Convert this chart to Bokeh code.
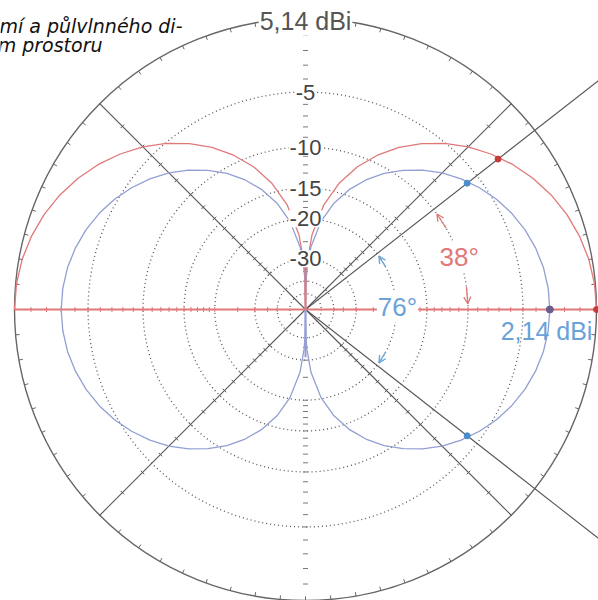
import numpy as np
from bokeh.plotting import figure
from bokeh.models import Range1d, Label, Arrow, OpenHead
from bokeh.embed import file_html
from bokeh.resources import INLINE

# ---------------- data ----------------
title_lines = ["mí a půlvlnného di-", "m prostoru"]
peak_label = "5,14 dBi"
dipole_label = "2,14 dBi"
ring_db = [-5, -10, -15, -20, -30, -40, -50]
ring_labels = ["-5", "-10", "-15", "-20", "-30"]
# elevation angle (deg) and relative pattern level (dB) of the dipole lobe
elev_deg = [0, 5, 10, 15, 20, 25, 30, 35, 40, 45, 50, 55, 60, 65, 70, 75, 80, 85, 88, 89, 90]
pattern_db = [0.0, -0.05, -0.19, -0.44, -0.78, -1.22, -1.76, -2.41, -3.17, -4.03, -5.05,
              -6.23, -7.58, -9.20, -11.16, -13.69, -17.24, -23.26, -31.2, -37.3, -99.0]
scale_max_dbi = 5.14
red_peak_dbi = 5.14     # dipole over ground (upper half only)
blue_peak_dbi = 2.14    # half-wave dipole in free space
red_half_angle = 38     # deg
blue_beamwidth = 76     # deg

# ---------------- styling ----------------
R = 291.0
FONT = "Liberation Sans"
GRAY = "#555555"
RED = "#e07878"
RED_D = "#c83a3a"
BLUE_LINE = "#929fd2"
BLUE_T = "#6aa2d8"


def rad(db):
    """ARRL log-periodic radial scale: 0.89 per 2 dB."""
    return R * 0.89 ** (-np.asarray(db, dtype=float) / 2.0)


def pol(r, deg):
    a = np.deg2rad(np.asarray(deg, dtype=float))
    return np.asarray(r) * np.cos(a), np.asarray(r) * np.sin(a)


p = figure(width=598, height=600, x_range=Range1d(-305, 293), y_range=Range1d(-291, 309),
           output_backend="svg", toolbar_location=None, min_border=0)
p.axis.visible = False
p.grid.visible = False
p.outline_line_color = None
p.background_fill_color = "white"
p.border_fill_color = "white"

# dotted rings
for d in ring_db:
    p.circle(x=0, y=0, radius=float(rad(d)), fill_color=None, line_color="#555555",
             line_width=1.3, line_dash="1 3")
# outer ring
p.circle(x=0, y=0, radius=R, fill_color=None, line_color="#666666", line_width=1.4)
tick_a = np.arange(0, 360, 5)
x0, y0 = pol(R - 4, tick_a)
x1, y1 = pol(R, tick_a)
p.segment(x0, y0, x1, y1, line_color="#666666", line_width=1)

# radial lines at 45 deg
for a in [45, 135, 225, 315]:
    xe, ye = pol(R, a)
    p.segment(0, 0, float(xe), float(ye), line_color=GRAY, line_width=1.1)
    tdb = np.arange(-2, -31, -2)
    rr = rad(tdb)
    cx, cy = pol(rr, a)
    px, py = pol(2.5, a + 90)
    p.segment(cx - px, cy - py, cx + px, cy + py, line_color=GRAY, line_width=1)

# half-power direction lines (+-38 deg), running past the ring
for a in [red_half_angle, -red_half_angle]:
    xe, ye = pol(400, a)
    p.segment(0, 0, float(xe), float(ye), line_color=GRAY, line_width=1.1)

# horizontal (ground) axis in red with 1 dB ticks
p.segment(-R, 0, R, 0, line_color=RED, line_width=2)
hdb = np.concatenate([np.arange(-1, -21, -1), [-25, -30, -35, -40]])
hr = rad(hdb)
for s in [1, -1]:
    p.segment(s * hr, -2.5, s * hr, 2.5, line_color=RED, line_width=1)
# vertical ticks
for s in [1, -1]:
    p.segment(-2.5, s * hr, 2.5, s * hr, line_color="#777777", line_width=1)

# patterns
el = np.array(elev_deg, dtype=float)
pdb = np.array(pattern_db, dtype=float)
# red: upper half
red_ang = np.concatenate([el, 180 - el[::-1]])
red_db = np.concatenate([pdb, pdb[::-1]]) + (red_peak_dbi - scale_max_dbi)
rx, ry = pol(rad(red_db), red_ang)
p.line(rx, ry, line_color=RED, line_width=1.3)
# blue: full figure eight
blue_ang = np.concatenate([el, 180 - el[::-1], 180 + el, 360 - el[::-1]])
blue_db = np.concatenate([pdb, pdb[::-1], pdb, pdb[::-1]]) + (blue_peak_dbi - scale_max_dbi)
bx, by = pol(rad(blue_db), blue_ang)
p.line(bx, by, line_color=BLUE_LINE, line_width=1.3)
# vertical null segments drawn over
p.segment(0, 0, 0, float(rad(-31)), line_color=RED, line_width=2)
p.segment(0, 0, 0, -float(rad(-31)), line_color=BLUE_LINE, line_width=2)

# marker dots
hp = -3.0
dx, dy = pol(rad(red_peak_dbi - scale_max_dbi + hp), red_half_angle)
p.scatter([float(dx)], [float(dy)], size=6, color=RED_D)
p.scatter([R], [0], size=6, color=RED_D)
for a in [blue_beamwidth / 2, -blue_beamwidth / 2]:
    dx, dy = pol(rad(blue_peak_dbi - scale_max_dbi + hp), a)
    p.scatter([float(dx)], [float(dy)], size=6, color="#4a8ccc")
p.scatter([float(rad(blue_peak_dbi - scale_max_dbi))], [0], size=7, color="#6a5c8c")

# angle arrows
def arc_arrow(r, a_from, a_to, color):
    xs, ys = pol(r, a_from)
    xe, ye = pol(r, a_to)
    p.add_layout(Arrow(end=OpenHead(size=7, line_color=color, line_width=1.3),
                       x_start=float(xs), y_start=float(ys), x_end=float(xe), y_end=float(ye),
                       line_color=color, line_width=1.3))

r10 = float(rad(-10))
arc_arrow(r10, 30, 36, RED)
arc_arrow(r10, 8, 2, RED)
r20 = float(rad(-20))
arc_arrow(r20, 28, 36, BLUE_T)
arc_arrow(r20, -28, -36, BLUE_T)

# labels
def lab(x, y, text, color, size, align="center", baseline="middle", bg=True, style="normal",
        font=FONT):
    kw = dict(x=x, y=y, text=text, text_color=color, text_font=font,
              text_font_size=f"{size}px", text_align=align, text_baseline=baseline,
              text_font_style=style)
    if bg:
        kw.update(background_fill_color="white", padding=1)
    p.add_layout(Label(**kw))

lab(0, R - 2, peak_label, "#555555", 25)
for d, t in zip(ring_db, ring_labels):
    lab(0, float(rad(d)), t, "#444444", 22)
lab(float(rad(-10)) * np.cos(np.deg2rad(19)), float(rad(-10)) * np.sin(np.deg2rad(19)),
    f"{red_half_angle}°", RED, 26)
lab(92, 3, f"{blue_beamwidth}°", BLUE_T, 26)
lab(241, -21, dipole_label, BLUE_T, 25, bg=False)

# caption (cut off at the left edge in the original)
lab(-123, 284, title_lines[0], "#111111", 19, align="right", baseline="alphabetic", bg=False,
    style="italic", font="DejaVu Sans")
lab(-203, 265, title_lines[1], "#111111", 19, align="right", baseline="alphabetic", bg=False,
    style="italic", font="DejaVu Sans")

open("out.html", "w").write(file_html(p, INLINE))
